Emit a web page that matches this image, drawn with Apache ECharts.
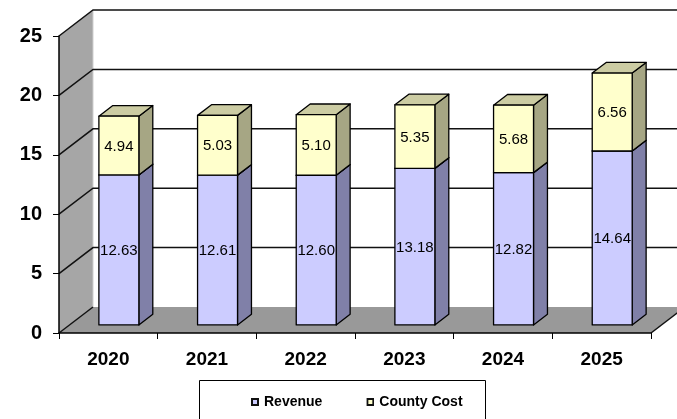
<!DOCTYPE html>
<html>
<head>
<meta charset="utf-8">
<script src="https://cdn.jsdelivr.net/npm/echarts@6/dist/echarts.min.js"></script>
<style>
  html, body { margin: 0; padding: 0; background: #fff; }
  #chart { width: 677px; height: 419px; }
</style>
</head>
<body>
<div id="chart"></div>
<script>
// Budget split per year: revenue plus county cost (stacked)
const years = ['2020', '2021', '2022', '2023', '2024', '2025'];
const revenue = [12.63, 12.61, 12.60, 13.18, 12.82, 14.64];
const countyCost = [4.94, 5.03, 5.10, 5.35, 5.68, 6.56];
const valueTicks = [0, 5, 10, 15, 20, 25];

// Depth vector of the pseudo-3D box (front plane -> back wall)
const DX = 34, DY = -26;
// Bars sit between these fractions of the depth
const BAR_FRONT = 0.31, BAR_DEPTH = 0.41;
const BAR_WIDTH = 0.405;
const FONT = 'Arial, "Liberation Sans", sans-serif';

const chart = echarts.init(document.getElementById('chart'), null, { renderer: 'canvas' });

function wallRenderer(params, api) {
  const cs = params.coordSys;
  const x0 = cs.x, x1 = cs.x + cs.width;
  const yb = api.coord([0, 0])[1];
  const yt = api.coord([0, valueTicks[valueTicks.length - 1]])[1];
  const children = [];
  // left side wall
  children.push({ type: 'polygon', shape: { points: [[x0, yt], [x0 + DX, yt + DY], [x0 + DX, yb + DY], [x0, yb]] },
    style: { fill: '#a6a6a6', stroke: null } });
  // floor
  children.push({ type: 'polygon', shape: { points: [[x0, yb], [x1, yb], [x1 + DX, yb + DY], [x0 + DX, yb + DY]] },
    style: { fill: '#999999', stroke: null } });
  // floor right edge
  children.push({ type: 'line', shape: { x1: x1, y1: yb, x2: x1 + DX, y2: yb + DY },
    style: { stroke: '#111', lineWidth: 1.5 } });
  // light seam between side wall and back wall
  children.push({ type: 'line', shape: { x1: x0 + DX, y1: yt + DY, x2: x0 + DX, y2: yb + DY },
    style: { stroke: '#cfcfcf', lineWidth: 1 } });
  // grid lines: diagonal on the side wall, horizontal on the back wall
  valueTicks.forEach(function (v) {
    const y = api.coord([0, v])[1];
    const pts = v === 0
      ? [[x0, y], [x0 + DX, y + DY]]
      : [[x0, y], [x0 + DX, y + DY], [x1 + DX, y + DY]];
    children.push({ type: 'polyline', shape: { points: pts },
      style: { stroke: '#111', lineWidth: 1.5, fill: null } });
  });
  return { type: 'group', children: children };
}

function barRenderer(front, side, top) {
  return function (params, api) {
    const idx = api.value(0), lo = api.value(1), hi = api.value(2), lab = api.value(3);
    const pb = api.coord([idx, lo]);
    const pt = api.coord([idx, hi]);
    const w = api.size([1, 0])[0] * BAR_WIDTH;
    const fx = pb[0] - w / 2 + BAR_FRONT * DX;
    const fyb = pb[1] + BAR_FRONT * DY;
    const fyt = pt[1] + BAR_FRONT * DY;
    const tx = BAR_DEPTH * DX, ty = BAR_DEPTH * DY;
    const edge = { stroke: '#000', lineWidth: 1.3, lineJoin: 'round' };
    return {
      type: 'group',
      children: [
        { type: 'polygon', shape: { points: [[fx + w, fyt], [fx + w + tx, fyt + ty], [fx + w + tx, fyb + ty], [fx + w, fyb]] },
          style: Object.assign({ fill: side }, edge) },
        { type: 'polygon', shape: { points: [[fx, fyt], [fx + tx, fyt + ty], [fx + w + tx, fyt + ty], [fx + w, fyt]] },
          style: Object.assign({ fill: top }, edge) },
        { type: 'rect', shape: { x: fx, y: fyt, width: w, height: fyb - fyt },
          style: Object.assign({ fill: front }, edge) },
        { type: 'text', x: fx + w / 2, y: (fyt + fyb) / 2 + 1,
          style: { text: lab.toFixed(2), fill: '#000', font: '15px ' + FONT, align: 'center', verticalAlign: 'middle' } }
      ]
    };
  };
}

// Square legend swatch with a dark frame
function swatch(fill) {
  const svg = "<svg xmlns='http://www.w3.org/2000/svg' width='8' height='8'>" +
    "<rect x='1' y='1' width='6' height='6' fill='" + fill + "' stroke='#111' stroke-width='2'/></svg>";
  return 'image://data:image/svg+xml;charset=utf-8,' + encodeURIComponent(svg);
}

const revenueData = years.map(function (y, i) { return [i, 0, revenue[i], revenue[i]]; });
const costData = years.map(function (y, i) { return [i, revenue[i], revenue[i] + countyCost[i], countyCost[i]]; });

chart.setOption({
  animation: false,
  backgroundColor: '#fff',
  grid: { left: 59, right: 26, top: 36, bottom: 86 },
  xAxis: {
    type: 'category',
    data: years,
    axisLine: { show: true, lineStyle: { color: '#000', width: 1.5 } },
    axisTick: { show: true, length: 6, lineStyle: { color: '#000', width: 1 } },
    axisLabel: { color: '#000', fontFamily: FONT, fontWeight: 'bold', fontSize: 19, margin: 17 },
    splitLine: { show: false }
  },
  yAxis: {
    type: 'value',
    min: 0, max: 25, interval: 5,
    axisLine: { show: true, lineStyle: { color: '#000', width: 1.5 } },
    axisTick: { show: true, length: 6, lineStyle: { color: '#000', width: 1 } },
    axisLabel: { color: '#000', fontFamily: FONT, fontWeight: 'bold', fontSize: 20, margin: 17 },
    splitLine: { show: false }
  },
  legend: {
    left: 246, top: 390,
    itemWidth: 8, itemHeight: 8, itemGap: 44,
    textStyle: { color: '#000', fontFamily: FONT, fontWeight: 'bold', fontSize: 14 },
    data: [
      { name: 'Revenue', icon: swatch('#ccccff') },
      { name: 'County Cost', icon: swatch('#ffffcc') }
    ]
  },
  graphic: [{
    type: 'rect', z: -1,
    shape: { x: 199.5, y: 380.5, width: 286, height: 60 },
    style: { fill: '#fff', stroke: '#000', lineWidth: 1 }
  }],
  series: [
    {
      type: 'custom', name: 'walls', silent: true, z: 0,
      renderItem: wallRenderer,
      data: [[0, 0]],
      encode: { x: 0, y: 1 }
    },
    {
      type: 'custom', name: 'Revenue', z: 2,
      itemStyle: { color: '#ccccff' },
      renderItem: barRenderer('#ccccff', '#8080a8', '#a6a6cc'),
      data: revenueData,
      encode: { x: 0, y: [1, 2] }
    },
    {
      type: 'custom', name: 'County Cost', z: 3,
      itemStyle: { color: '#ffffcc' },
      renderItem: barRenderer('#ffffcc', '#a6a684', '#cccca3'),
      data: costData,
      encode: { x: 0, y: [1, 2] }
    }
  ]
});
</script>
</body>
</html>
